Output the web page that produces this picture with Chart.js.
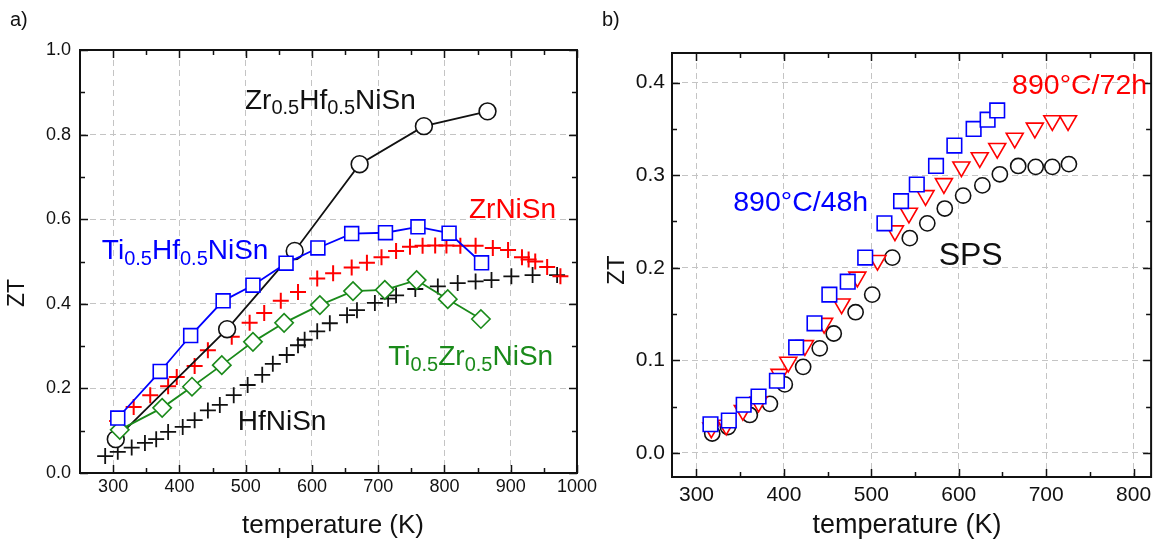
<!DOCTYPE html>
<html>
<head>
<meta charset="utf-8">
<title>ZT vs temperature</title>
<script src="https://cdn.jsdelivr.net/npm/chart.js@4/dist/chart.umd.min.js"></script>
<style>
  html, body { margin: 0; padding: 0; background: #fff; }
  #wrap { position: relative; width: 1163px; height: 547px; overflow: hidden; }
  canvas { position: absolute; top: 0; }
  #chartA { left: 0; }
  #chartB { left: 600px; }
  .tag { position: absolute; top: 8px; font: 20px "Liberation Sans", Arial, sans-serif; color: #111; }
</style>
</head>
<body>
<div id="wrap">
  <canvas id="chartA" width="600" height="547"></canvas>
  <canvas id="chartB" width="563" height="547"></canvas>
  <div class="tag" style="left:10px">a)</div>
  <div class="tag" style="left:602px">b)</div>
</div>
<script>
const FONT = '"Liberation Sans", Arial, sans-serif';

// panel a: [temperature K, ZT]
const zrHfNiSn = [[304,0.080],[472,0.340],[574,0.525],[672,0.730],[769,0.820],[865,0.855]];
const tiHfNiSn = [[307,0.130],[371,0.240],[417,0.325],[466,0.407],[511,0.444],[561,0.496],
  [609,0.532],[660,0.566],[711,0.568],[760,0.582],[807,0.567],[856,0.497]];
const zrNiSn = [[306,0.123],[331,0.156],[356,0.184],[383,0.205],[396,0.227],[423,0.253],
  [443,0.290],[479,0.322],[506,0.355],[528,0.378],[553,0.407],[579,0.428],[608,0.460],
  [632,0.472],[660,0.486],[683,0.497],[705,0.510],[727,0.525],[748,0.535],[767,0.537],
  [786,0.538],[803,0.538],[824,0.537],[847,0.537],[873,0.532],[896,0.527],[917,0.510],
  [927,0.505],[937,0.500],[955,0.487],[975,0.465]];
const hfNiSn = [[288,0.040],[307,0.050],[328,0.060],[348,0.071],[365,0.080],[383,0.097],
  [405,0.109],[423,0.125],[443,0.148],[461,0.161],[482,0.184],[503,0.208],[525,0.232],
  [541,0.258],[562,0.279],[579,0.302],[589,0.315],[608,0.335],[627,0.354],[653,0.373],
  [668,0.385],[695,0.402],[715,0.412],[727,0.420],[756,0.435],[790,0.441],[820,0.449],
  [847,0.453],[871,0.456],[901,0.465],[933,0.468],[970,0.468]];
const tiZrNiSn = [[310,0.102],[374,0.154],[419,0.204],[464,0.255],[511,0.310],[558,0.355],
  [612,0.397],[662,0.430],[710,0.433],[758,0.456],[805,0.411],[855,0.364]];

// panel b: [temperature K, ZT]
const anneal48h = [[316,0.031],[337,0.035],[354,0.052],[371,0.061],[392,0.078],[414,0.114],
  [435,0.140],[452,0.171],[473,0.185],[493,0.211],[515,0.248],[534,0.272],[552,0.290],
  [574,0.310],[595,0.332],[617,0.350],[633,0.360],[644,0.370]];
const anneal72h = [[317,0.027],[334,0.030],[353,0.046],[371,0.055],[395,0.085],[405,0.098],
  [424,0.116],[446,0.140],[466,0.161],[484,0.190],[507,0.208],[527,0.240],[543,0.259],
  [562,0.278],[583,0.291],[603,0.309],[624,0.319],[644,0.329],[664,0.340],[687,0.351],
  [707,0.359],[725,0.359]];
const sps = [[318,0.021],[336,0.028],[361,0.041],[384,0.053],[401,0.074],[422,0.093],
  [441,0.113],[457,0.129],[482,0.152],[501,0.171],[524,0.211],[544,0.232],[564,0.248],
  [584,0.264],[605,0.278],[627,0.289],[647,0.301],[668,0.310],[688,0.309],[707,0.309],
  [726,0.312]];

// tick values
const xTicksA = [300, 400, 500, 600, 700, 800, 900, 1000];
const yTicksA = [0, 0.2, 0.4, 0.6, 0.8, 1.0];
const xMinorA = [350, 450, 550, 650, 750, 850, 950];
const yMinorA = [0.1, 0.3, 0.5, 0.7, 0.9];
const xTicksB = [300, 400, 500, 600, 700, 800];
const yTicksB = [0, 0.1, 0.2, 0.3, 0.4];
const xMinorB = [350, 450, 550, 650, 750];
const yMinorB = [0.05, 0.15, 0.25, 0.35];

function axis(min, max, ticks, fmt, size, pad, fixed, isX) {
  return {
    type: 'linear', min, max,
    afterBuildTicks: s => { s.ticks = ticks.map(v => ({ value: v })); },
    afterFit: s => { if (isX) s.height = fixed; else s.width = fixed; },
    grid: { color: '#c4c4c4', lineWidth: 1, drawTicks: false },
    border: { display: false, dash: [6, 4] },
    ticks: { autoSkip: false, maxRotation: 0, padding: pad, color: '#111',
      font: { family: FONT, size }, callback: fmt }
  };
}

function series(label, pts, color, style, radius, line, extra) {
  return Object.assign({
    label,
    data: pts.map(([x, y]) => ({ x, y })),
    borderColor: color,
    backgroundColor: '#fff',
    pointStyle: style,
    pointRadius: radius,
    pointBorderColor: color,
    pointBackgroundColor: '#fff',
    pointBorderWidth: 1.6,
    showLine: line,
    borderWidth: 1.8
  }, extra || {});
}

// box, inward tick marks, text labels and axis titles
const decor = {
  id: 'decor',
  afterDraw(chart, args, o) {
    const { ctx, chartArea: a, scales: { x, y } } = chart;
    ctx.save();
    ctx.strokeStyle = '#111';
    ctx.lineWidth = 1.5;
    const tickX = (vals, len) => vals.forEach(v => {
      const p = Math.round(x.getPixelForValue(v)) + 0.5;
      ctx.beginPath();
      ctx.moveTo(p, a.bottom); ctx.lineTo(p, a.bottom - len);
      ctx.moveTo(p, a.top); ctx.lineTo(p, a.top + len);
      ctx.stroke();
    });
    const tickY = (vals, len) => vals.forEach(v => {
      const p = Math.round(y.getPixelForValue(v)) + 0.5;
      ctx.beginPath();
      ctx.moveTo(a.left, p); ctx.lineTo(a.left + len, p);
      ctx.moveTo(a.right, p); ctx.lineTo(a.right - len, p);
      ctx.stroke();
    });
    tickX(o.xMajor, 8); tickX(o.xMinor, 5);
    tickY(o.yMajor, 8); tickY(o.yMinor, 5);
    ctx.lineWidth = 2;
    ctx.strokeRect(a.left, a.top, a.right - a.left, a.bottom - a.top);

    ctx.textBaseline = 'alphabetic';
    o.notes.forEach(n => {
      let px = x.getPixelForValue(n.at[0]);
      const py = y.getPixelForValue(n.at[1]);
      ctx.fillStyle = n.color;
      n.parts.forEach(p => {
        const sub = typeof p !== 'string';
        const txt = sub ? p[0] : p;
        ctx.font = `${sub ? Math.round(n.size * 0.7) : n.size}px ${FONT}`;
        ctx.fillText(txt, px, py + (sub ? n.size * 0.2 : 0));
        px += ctx.measureText(txt).width;
      });
    });

    ctx.fillStyle = '#111';
    ctx.textAlign = 'center';
    ctx.textBaseline = 'middle';
    const t = o.titles;
    ctx.font = `${t.size}px ${FONT}`;
    ctx.fillText(t.x[0], t.x[1], t.x[2]);
    ctx.font = `${t.ySize}px ${FONT}`;
    ctx.translate(t.y[1], t.y[2]);
    ctx.rotate(-Math.PI / 2);
    ctx.fillText(t.y[0], 0, 0);
    ctx.restore();
  }
};

const base = {
  responsive: false,
  devicePixelRatio: 1,
  animation: false,
  events: [],
  plugins: { legend: { display: false }, tooltip: { enabled: false } }
};

new Chart(document.getElementById('chartA'), {
  type: 'scatter',
  data: {
    datasets: [
      series('Ti0.5Hf0.5NiSn', tiHfNiSn, '#0000ff', 'rect', 9.8, true),
      series('Ti0.5Zr0.5NiSn', tiZrNiSn, '#1a8a1a', 'rectRot', 9.2, true),
      series('Zr0.5Hf0.5NiSn', zrHfNiSn, '#111', 'circle', 8.4, true),
      series('ZrNiSn', zrNiSn, '#ff0000', 'cross', 8, false, { pointBorderWidth: 2 }),
      series('HfNiSn', hfNiSn, '#111', 'cross', 8, false, { pointBorderWidth: 1.8 })
    ]
  },
  options: Object.assign({}, base, {
    layout: { padding: { left: 0, top: 50, right: 23, bottom: 0 } },
    scales: {
      x: axis(250, 1000, xTicksA, v => String(v), 18, 3, 74, true),
      y: axis(0, 1.0, yTicksA, v => v.toFixed(1), 18, 9, 80, false)
    },
    plugins: Object.assign({}, base.plugins, {
      decor: {
        xMajor: xTicksA, xMinor: xMinorA, yMajor: yTicksA, yMinor: yMinorA,
        titles: { size: 26, ySize: 23, x: ['temperature (K)', 333, 526], y: ['ZT', 18, 293] },
        notes: [
          { at: [499, 0.861], color: '#111', size: 28, parts: ['Zr', ['0.5'], 'Hf', ['0.5'], 'NiSn'] },
          { at: [283, 0.506], color: '#0000ff', size: 28, parts: ['Ti', ['0.5'], 'Hf', ['0.5'], 'NiSn'] },
          { at: [837, 0.603], color: '#ff0000', size: 28, parts: ['ZrNiSn'] },
          { at: [715, 0.255], color: '#1a8a1a', size: 28, parts: ['Ti', ['0.5'], 'Zr', ['0.5'], 'NiSn'] },
          { at: [488, 0.102], color: '#111', size: 28, parts: ['HfNiSn'] }
        ]
      }
    })
  }),
  plugins: [decor]
});

new Chart(document.getElementById('chartB'), {
  type: 'scatter',
  data: {
    datasets: [
      series('890°C/48h', anneal48h, '#0000ff', 'rect', 10.3, false),
      series('890°C/72h', anneal72h, '#ff0000', 'triangle', 9.8, false, { pointRotation: 180 }),
      series('SPS', sps, '#111', 'circle', 7.6, false)
    ]
  },
  options: Object.assign({}, base, {
    layout: { padding: { left: 0, top: 53, right: 6, bottom: 0 } },
    scales: {
      x: axis(272, 820, xTicksB, v => String(v), 21, 6, 70, true),
      y: axis(-0.026, 0.432, yTicksB, v => v.toFixed(1), 21, 7, 72, false)
    },
    plugins: Object.assign({}, base.plugins, {
      decor: {
        xMajor: xTicksB, xMinor: xMinorB, yMajor: yTicksB, yMinor: yMinorB,
        titles: { size: 27, ySize: 24, x: ['temperature (K)', 307, 526], y: ['ZT', 17, 270] },
        notes: [
          { at: [342, 0.261], color: '#0000ff', size: 28.5, parts: ['890°C/48h'] },
          { at: [661, 0.388], color: '#ff0000', size: 28.5, parts: ['890°C/72h'] },
          { at: [577, 0.203], color: '#111', size: 32, parts: ['SPS'] }
        ]
      }
    })
  }),
  plugins: [decor]
});
</script>
</body>
</html>
